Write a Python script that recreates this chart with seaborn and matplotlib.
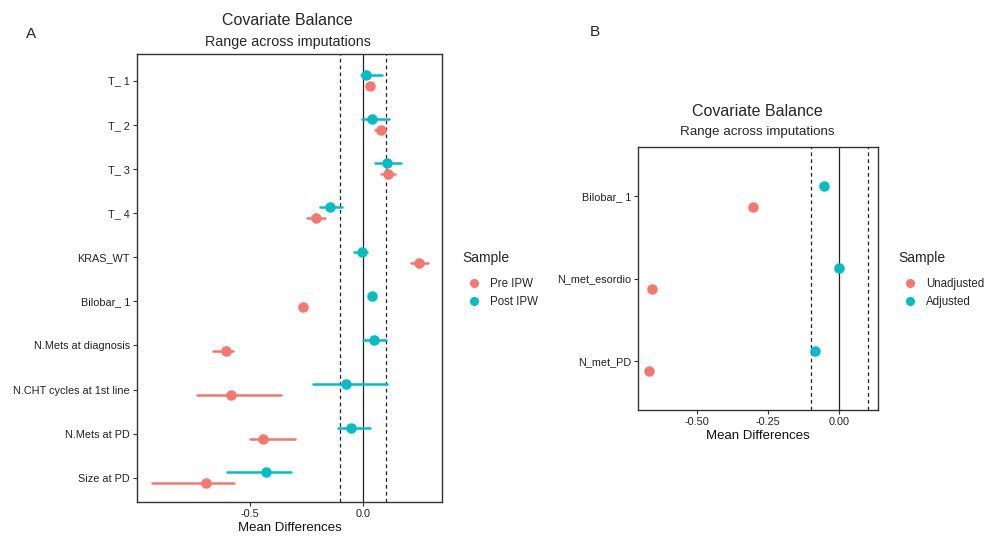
import matplotlib
matplotlib.use("Agg")
import matplotlib.pyplot as plt
from matplotlib.lines import Line2D
import numpy as np
import pandas as pd
import seaborn as sns

# panel A: IPW balance, range across imputations
covs_a = ['T_ 1', 'T_ 2', 'T_ 3', 'T_ 4', 'KRAS_WT', 'Bilobar_ 1',
          'N.Mets at diagnosis', 'N.CHT cycles at 1st line', 'N.Mets at PD', 'Size at PD']
pre_mid = [0.030, 0.080, 0.110, -0.208, 0.248, -0.265, -0.605, -0.584, -0.443, -0.695]
pre_lo = [0.020, 0.053, 0.080, -0.248, 0.212, -0.270, -0.663, -0.734, -0.500, -0.934]
pre_hi = [0.042, 0.097, 0.142, -0.168, 0.288, -0.260, -0.574, -0.363, -0.301, -0.571]
post_mid = [0.013, 0.040, 0.106, -0.146, -0.006, 0.042, 0.049, -0.075, -0.053, -0.429]
post_lo = [-0.010, -0.005, 0.053, -0.190, -0.040, 0.038, 0.000, -0.220, -0.110, -0.600]
post_hi = [0.085, 0.115, 0.168, -0.093, 0.018, 0.046, 0.100, 0.105, 0.031, -0.318]

# panel B
covs_b = ['Bilobar_ 1', 'N_met_esordio', 'N_met_PD']
unadj = [-0.303, -0.658, -0.669]
adj = [-0.053, 0.000, -0.085]

RED, CYAN = '#F8766D', '#00BFC4'
FONT = ['Liberation Sans', 'DejaVu Sans']
MS = 5.5

sns.set_theme(style='white')
plt.rcParams['font.family'] = FONT


def long_frame(covs, groups):
    # three rows per (covariate, sample): low, centre, high
    rows = []
    for name, (mid, lo, hi) in groups.items():
        for c, m, l, h in zip(covs, mid, lo, hi):
            for v in (l, m, h):
                rows.append({'cov': c, 'Sample': name, 'diff': v})
    return pd.DataFrame(rows)


def love_plot(ax, df, covs, order, xlim, xticks, xlabels, show_err=True):
    sns.pointplot(data=df, x='diff', y='cov', hue='Sample', order=covs,
                  hue_order=order, palette=[CYAN, RED], estimator='median',
                  errorbar=('pi', 100) if show_err else None, dodge=0.25,
                  linestyle='none', markers='o', markersize=MS,
                  err_kws={'linewidth': 1.8}, legend=False, ax=ax, zorder=3)
    ax.axvline(0, color='#222222', lw=0.9, zorder=1)
    for v in (-0.1, 0.1):
        ax.axvline(v, color='#222222', lw=0.9, ls=(0, (3, 2.5)), zorder=1)
    ax.set_xlim(*xlim)
    ax.set_xticks(xticks)
    ax.set_xticklabels(xlabels)
    ax.set_ylabel('')
    ax.set_xlabel('Mean Differences', fontsize=9.5, labelpad=2, color='#111111')
    for s in ax.spines.values():
        s.set_visible(True)
        s.set_color('#333333')
        s.set_linewidth(1.0)
    ax.tick_params(axis='both', length=3, width=0.8, color='#333333',
                   labelsize=7.8, labelcolor='#222222', pad=2, bottom=True, left=True)


def legend(labels, x):
    h = [Line2D([], [], marker='o', ls='none', color=c, markersize=MS) for c in (RED, CYAN)]
    leg = fig.legend(h, labels, title='Sample', loc='upper left',
                     bbox_to_anchor=(x, 0.555), frameon=False, fontsize=8.3,
                     title_fontsize=10, handletextpad=0.4, labelspacing=0.55,
                     alignment='left')
    leg._legend_box.sep = 9
    return leg


fig = plt.figure(figsize=(9.89, 5.41), dpi=100)

# ---- panel A
ax_a = fig.add_axes([0.1385, 0.072, 0.3085, 0.828])
df_a = long_frame(covs_a, {'Post IPW': (post_mid, post_lo, post_hi),
                           'Pre IPW': (pre_mid, pre_lo, pre_hi)})
love_plot(ax_a, df_a, covs_a, ['Post IPW', 'Pre IPW'], (-1.0, 0.35),
          [-0.5, 0.0], ['-0.5', '0.0'])
ax_a.set_ylim(len(covs_a) - 0.45, -0.6)
fig.text(0.291, 0.962, 'Covariate Balance', ha='center', va='center', fontsize=11.5)
fig.text(0.291, 0.923, 'Range across imputations', ha='center', va='center', fontsize=10.3)
fig.text(0.031, 0.937, 'A', ha='center', va='center', fontsize=11)

# ---- panel B
ax_b = fig.add_axes([0.645, 0.242, 0.243, 0.486])
df_b = long_frame(covs_b, {'Adjusted': (adj, adj, adj),
                           'Unadjusted': (unadj, unadj, unadj)})
love_plot(ax_b, df_b, covs_b, ['Adjusted', 'Unadjusted'], (-0.708, 0.137),
          [-0.5, -0.25, 0.0], ['-0.50', '-0.25', '0.00'], show_err=False)
ax_b.set_ylim(len(covs_b) - 0.4, -0.6)
fig.text(0.766, 0.793, 'Covariate Balance', ha='center', va='center', fontsize=11.5)
fig.text(0.766, 0.756, 'Range across imputations', ha='center', va='center', fontsize=9.6)
fig.text(0.601, 0.940, 'B', ha='center', va='center', fontsize=11)

legend(['Pre IPW', 'Post IPW'], 0.457)
legend(['Unadjusted', 'Adjusted'], 0.898)

fig.savefig('out.png', dpi=100)
